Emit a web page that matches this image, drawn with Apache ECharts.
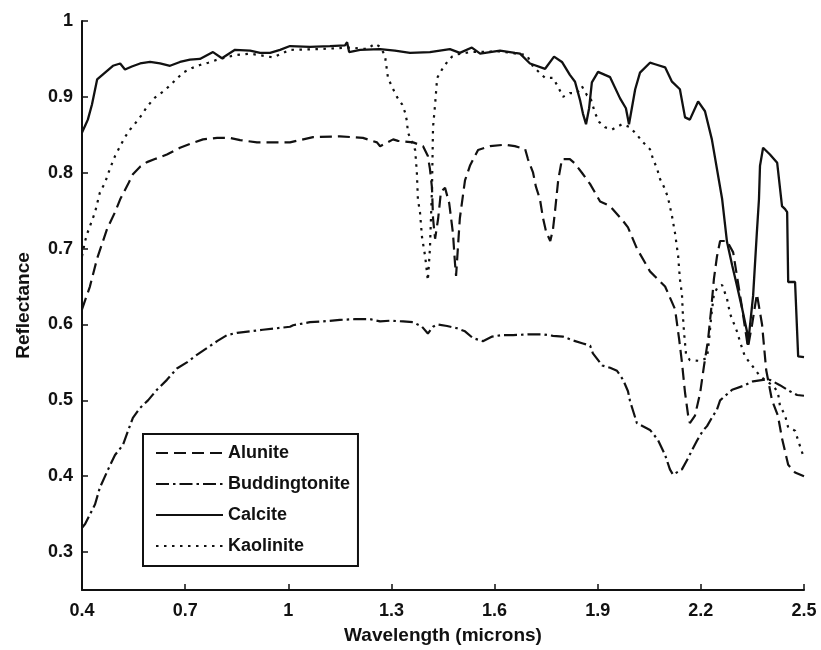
<!DOCTYPE html>
<html>
<head>
<meta charset="utf-8">
<script src="https://cdn.jsdelivr.net/npm/echarts@6/dist/echarts.min.js"></script>
<style>
  html, body { margin: 0; padding: 0; background: #fff; }
  #chart { width: 821px; height: 650px; }
</style>
</head>
<body>
<div id="chart"></div>
<script>
// tick positions on both axes
const xTicks = [0.4, 0.7, 1, 1.3, 1.6, 1.9, 2.2, 2.5];
const yTicks = [0.3, 0.4, 0.5, 0.6, 0.7, 0.8, 0.9, 1];

// [wavelength (microns), reflectance]
const alunite = [
  [0.400,0.620],[0.423,0.650],[0.444,0.687],[0.473,0.726],[0.496,0.748],[0.511,0.765],[0.534,0.785],
  [0.548,0.798],[0.569,0.808],[0.589,0.814],[0.612,0.818],[0.647,0.824],[0.685,0.833],[0.714,0.838],
  [0.752,0.844],[0.793,0.846],[0.830,0.846],[0.860,0.843],[0.909,0.840],[0.956,0.840],[1.005,0.840],
  [1.072,0.847],[1.150,0.848],[1.217,0.846],[1.258,0.840],[1.267,0.835],[1.305,0.844],[1.319,0.842],
  [1.363,0.840],[1.392,0.835],[1.406,0.822],[1.412,0.805],[1.418,0.780],[1.421,0.740],[1.427,0.713],
  [1.436,0.740],[1.444,0.775],[1.456,0.780],[1.468,0.760],[1.479,0.720],[1.485,0.680],[1.488,0.664],
  [1.499,0.740],[1.514,0.790],[1.529,0.810],[1.552,0.830],[1.587,0.835],[1.630,0.837],[1.659,0.835],
  [1.689,0.831],[1.697,0.818],[1.712,0.800],[1.720,0.782],[1.732,0.765],[1.741,0.740],[1.750,0.722],
  [1.762,0.710],[1.770,0.726],[1.776,0.750],[1.785,0.790],[1.796,0.818],[1.819,0.818],[1.834,0.812],
  [1.854,0.800],[1.878,0.785],[1.907,0.762],[1.936,0.756],[1.971,0.738],[1.988,0.728],[2.014,0.700],
  [2.052,0.670],[2.096,0.650],[2.125,0.620],[2.137,0.580],[2.145,0.550],[2.154,0.510],[2.163,0.480],
  [2.168,0.470],[2.183,0.480],[2.198,0.510],[2.209,0.545],[2.221,0.580],[2.230,0.620],[2.238,0.660],
  [2.247,0.690],[2.256,0.710],[2.276,0.710],[2.294,0.695],[2.317,0.630],[2.337,0.570],[2.349,0.600],
  [2.363,0.640],[2.378,0.600],[2.390,0.540],[2.407,0.500],[2.424,0.480],[2.436,0.450],[2.454,0.415],
  [2.474,0.405],[2.500,0.400]
];

const buddingtonite = [
  [0.400,0.332],[0.409,0.337],[0.438,0.363],[0.452,0.385],[0.476,0.409],[0.496,0.428],[0.519,0.441],
  [0.534,0.460],[0.548,0.477],[0.569,0.490],[0.592,0.500],[0.618,0.514],[0.647,0.527],[0.676,0.542],
  [0.705,0.550],[0.734,0.560],[0.764,0.569],[0.793,0.578],[0.822,0.586],[0.851,0.589],[0.889,0.591],
  [0.926,0.593],[0.967,0.595],[1.005,0.597],[1.014,0.599],[1.063,0.603],[1.101,0.604],[1.150,0.606],
  [1.194,0.607],[1.238,0.607],[1.267,0.604],[1.296,0.605],[1.334,0.604],[1.363,0.603],[1.389,0.597],
  [1.406,0.588],[1.421,0.597],[1.433,0.600],[1.462,0.598],[1.491,0.595],[1.514,0.591],[1.537,0.582],
  [1.566,0.578],[1.593,0.584],[1.622,0.586],[1.654,0.586],[1.703,0.587],[1.741,0.587],[1.770,0.585],
  [1.799,0.584],[1.828,0.579],[1.857,0.575],[1.878,0.572],[1.886,0.562],[1.913,0.546],[1.936,0.543],
  [1.956,0.539],[1.974,0.527],[1.988,0.512],[1.994,0.499],[2.003,0.486],[2.014,0.470],[2.052,0.461],
  [2.075,0.448],[2.096,0.428],[2.110,0.409],[2.119,0.402],[2.145,0.409],[2.163,0.424],[2.174,0.434],
  [2.189,0.447],[2.206,0.460],[2.218,0.466],[2.232,0.477],[2.247,0.488],[2.256,0.500],[2.291,0.514],
  [2.323,0.519],[2.352,0.525],[2.381,0.527],[2.401,0.527],[2.430,0.520],[2.459,0.512],[2.480,0.507],
  [2.500,0.506]
];

const calcite = [
  [0.400,0.853],[0.409,0.862],[0.417,0.870],[0.429,0.890],[0.444,0.923],[0.467,0.932],[0.490,0.941],
  [0.511,0.944],[0.525,0.936],[0.545,0.940],[0.569,0.944],[0.598,0.946],[0.627,0.944],[0.656,0.941],
  [0.685,0.946],[0.714,0.949],[0.743,0.950],[0.781,0.959],[0.807,0.951],[0.845,0.962],[0.889,0.961],
  [0.918,0.958],[0.947,0.958],[0.976,0.962],[1.005,0.967],[1.063,0.966],[1.121,0.967],[1.165,0.968],
  [1.171,0.972],[1.177,0.959],[1.209,0.962],[1.267,0.963],[1.310,0.961],[1.354,0.958],[1.412,0.959],
  [1.470,0.963],[1.499,0.958],[1.534,0.965],[1.558,0.957],[1.616,0.961],[1.659,0.958],[1.674,0.957],
  [1.703,0.944],[1.747,0.937],[1.773,0.953],[1.796,0.946],[1.819,0.929],[1.834,0.920],[1.849,0.895],
  [1.857,0.878],[1.866,0.864],[1.875,0.885],[1.883,0.919],[1.901,0.933],[1.936,0.926],[1.965,0.898],
  [1.982,0.885],[1.991,0.864],[2.009,0.910],[2.023,0.932],[2.052,0.945],[2.067,0.943],[2.096,0.939],
  [2.116,0.920],[2.139,0.910],[2.154,0.873],[2.168,0.870],[2.192,0.894],[2.212,0.881],[2.232,0.844],
  [2.262,0.765],[2.276,0.709],[2.291,0.678],[2.305,0.651],[2.320,0.621],[2.334,0.591],[2.337,0.573],
  [2.352,0.638],[2.363,0.722],[2.369,0.765],[2.372,0.809],[2.381,0.833],[2.401,0.824],[2.422,0.813],
  [2.436,0.756],[2.445,0.752],[2.451,0.748],[2.454,0.656],[2.474,0.656],[2.483,0.558],[2.500,0.557]
];

const kaolinite = [
  [0.400,0.690],[0.409,0.710],[0.417,0.722],[0.438,0.748],[0.452,0.774],[0.467,0.787],[0.481,0.805],
  [0.496,0.822],[0.511,0.835],[0.525,0.847],[0.540,0.857],[0.560,0.868],[0.575,0.877],[0.589,0.887],
  [0.612,0.899],[0.636,0.907],[0.656,0.915],[0.676,0.924],[0.694,0.932],[0.720,0.938],[0.743,0.942],
  [0.767,0.945],[0.793,0.949],[0.845,0.955],[0.889,0.957],[0.956,0.952],[1.005,0.962],[1.092,0.963],
  [1.180,0.965],[1.229,0.963],[1.252,0.970],[1.267,0.966],[1.281,0.955],[1.290,0.925],[1.302,0.913],
  [1.316,0.900],[1.331,0.890],[1.340,0.879],[1.345,0.868],[1.348,0.853],[1.360,0.840],[1.369,0.830],
  [1.374,0.800],[1.377,0.765],[1.383,0.748],[1.389,0.715],[1.398,0.690],[1.406,0.658],[1.412,0.700],
  [1.418,0.780],[1.421,0.860],[1.427,0.890],[1.433,0.925],[1.447,0.936],[1.462,0.946],[1.476,0.953],
  [1.491,0.956],[1.529,0.959],[1.616,0.960],[1.694,0.955],[1.712,0.940],[1.747,0.925],[1.770,0.925],
  [1.785,0.913],[1.799,0.900],[1.819,0.905],[1.840,0.905],[1.854,0.914],[1.869,0.902],[1.878,0.900],
  [1.892,0.879],[1.904,0.867],[1.921,0.860],[1.942,0.857],[1.971,0.864],[1.994,0.860],[2.014,0.850],
  [2.032,0.840],[2.052,0.831],[2.061,0.818],[2.073,0.805],[2.081,0.792],[2.093,0.781],[2.104,0.768],
  [2.116,0.743],[2.125,0.720],[2.134,0.690],[2.139,0.660],[2.145,0.640],[2.148,0.610],[2.151,0.590],
  [2.157,0.560],[2.168,0.553],[2.198,0.552],[2.218,0.556],[2.224,0.580],[2.230,0.610],[2.238,0.640],
  [2.250,0.650],[2.262,0.652],[2.276,0.634],[2.285,0.614],[2.305,0.591],[2.314,0.577],[2.328,0.558],
  [2.352,0.544],[2.372,0.532],[2.392,0.525],[2.410,0.519],[2.424,0.511],[2.430,0.493],[2.445,0.480],
  [2.454,0.464],[2.474,0.460],[2.483,0.447],[2.500,0.424]
];

const ink = '#111';
const font = 'Arial, "Liberation Sans", Helvetica, sans-serif';
const fmt = v => (Math.abs(v - 1) < 1e-9 ? '1' : v.toFixed(1));

const chart = echarts.init(document.getElementById('chart'));

function lineSeries(name, data, dash, width) {
  return {
    name: name,
    type: 'line',
    data: data,
    symbol: 'none',
    showSymbol: false,
    smooth: false,
    lineStyle: { color: ink, width: width, type: dash, cap: 'butt' },
    itemStyle: { color: ink },
    emphasis: { disabled: true }
  };
}

chart.setOption({
  animation: false,
  backgroundColor: '#fff',
  textStyle: { fontFamily: font },
  grid: { left: 82, right: 17, top: 21, bottom: 57, containLabel: false },
  legend: {
    orient: 'vertical',
    left: 143,
    top: 434,
    itemWidth: 67,
    itemHeight: 14,
    itemGap: 13,
    padding: [10, 8, 11, 12],
    borderColor: ink,
    borderWidth: 2,
    borderRadius: 0,
    backgroundColor: '#fff',
    // hide the marker dot, keep only the dashed sample line
    itemStyle: { color: 'transparent', borderWidth: 0, opacity: 0 },
    textStyle: { color: ink, fontSize: 18, fontWeight: 'bold', fontFamily: font },
    data: ['Alunite', 'Buddingtonite', 'Calcite', 'Kaolinite']
  },
  xAxis: {
    type: 'value',
    min: 0.4,
    max: 2.5,
    name: 'Wavelength (microns)',
    nameLocation: 'middle',
    nameGap: 36,
    nameTextStyle: { color: ink, fontSize: 19, fontWeight: 'bold', fontFamily: font },
    axisLine: { show: true, onZero: false, lineStyle: { color: ink, width: 2 } },
    axisTick: { show: true, inside: true, length: 6, lineStyle: { color: ink, width: 1.5 }, customValues: xTicks },
    axisLabel: {
      customValues: xTicks,
      formatter: fmt,
      color: ink, fontSize: 18, fontWeight: 'bold', fontFamily: font, margin: 12,
      showMinLabel: true, showMaxLabel: true
    },
    splitLine: { show: false }
  },
  yAxis: {
    type: 'value',
    min: 0.25,
    max: 1,
    name: 'Reflectance',
    nameLocation: 'middle',
    nameGap: 49,
    nameTextStyle: { color: ink, fontSize: 19, fontWeight: 'bold', fontFamily: font },
    axisLine: { show: true, onZero: false, lineStyle: { color: ink, width: 2 } },
    axisTick: { show: true, inside: true, length: 6, lineStyle: { color: ink, width: 1.5 }, customValues: yTicks },
    axisLabel: {
      customValues: yTicks,
      formatter: fmt,
      color: ink, fontSize: 18, fontWeight: 'bold', fontFamily: font, margin: 9,
      showMinLabel: true, showMaxLabel: true
    },
    splitLine: { show: false }
  },
  series: [
    lineSeries('Alunite', alunite, [12, 6], 2.2),
    lineSeries('Buddingtonite', buddingtonite, [13, 4, 2.5, 4], 2.2),
    lineSeries('Calcite', calcite, 'solid', 2.3),
    lineSeries('Kaolinite', kaolinite, [2.5, 5.5], 2.2)
  ]
});
</script>
</body>
</html>
